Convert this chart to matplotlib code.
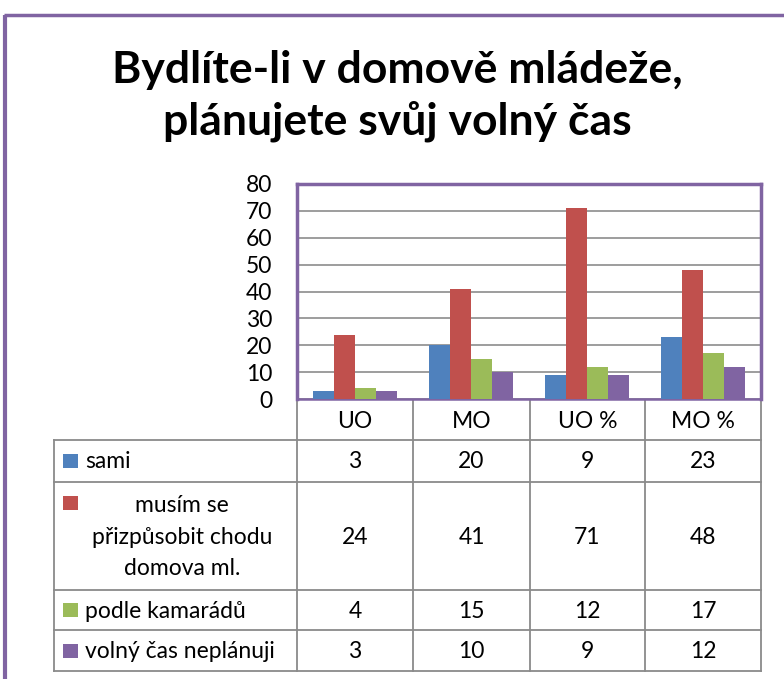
import numpy as np
import matplotlib
matplotlib.use('Agg')
import matplotlib.pyplot as plt

plt.rcParams['font.family'] = ['Lato', 'DejaVu Sans']

title = 'Bydlíte-li v domově mládeže,\nplánujete svůj volný čas'
categories = ['UO', 'MO', 'UO %', 'MO %']
series = ['sami', 'musím se\npřizpůsobit chodu\ndomova ml.', 'podle kamarádů', 'volný čas neplánuji']
sami = [3, 20, 9, 23]
musim = [24, 41, 71, 48]
kamaradi = [4, 15, 12, 17]
neplanuji = [3, 10, 9, 12]
values = [sami, musim, kamaradi, neplanuji]
colors = ['#4F81BD', '#C0504D', '#9BBB59', '#8064A2']
y_ticks = [0, 10, 20, 30, 40, 50, 60, 70, 80]

W, H = 784, 679
purple = '#8064A2'
grid_gray = '#8C8C8C'
fs = 16.5


def fx(x):
    return x / W


def fy(y):
    return 1 - y / H


fig = plt.figure(figsize=(W / 100, H / 100), dpi=100)

# overlay in pixel coordinates for border, title and data table
ov = fig.add_axes([0, 0, 1, 1], zorder=0)
ov.set_xlim(0, W)
ov.set_ylim(H, 0)
ov.axis('off')

# outer chart border
ov.plot([5.5, 5.5], [14.5, H + 5], color=purple, lw=3, clip_on=False, solid_capstyle='butt')
ov.plot([4, W + 5], [14.5, 14.5], color=purple, lw=2.5, clip_on=False, solid_capstyle='butt')

ov.text(397, 96, title, ha='center', va='center', fontsize=32, fontweight='bold',
        linespacing=1.3, color='black')

# bar chart
left, right, top, bottom = 297, 761, 184, 399
ax = fig.add_axes([fx(left), fy(bottom), fx(right - left), fy(top) - fy(bottom)], zorder=1)
x = np.arange(len(categories))
width = 0.181
for i, (vals, c) in enumerate(zip(values, colors)):
    ax.bar(x + (i - 1.5) * width, vals, width, color=c, zorder=3)
ax.set_xlim(-0.5, len(categories) - 0.5)
ax.set_ylim(0, 80)
ax.set_yticks(y_ticks)
ax.set_xticks([])
ax.tick_params(axis='y', length=0, pad=18, labelsize=fs)
ax.grid(axis='y', color=grid_gray, lw=1.2, zorder=1)
for side, s in ax.spines.items():
    s.set_color(purple)
    s.set_linewidth(2.5 if side != 'bottom' else 1.8)

# data table
col_edges = [297, 413, 530, 645, 761]
row_edges = [440, 482, 590, 630, 671]
label_left = 54
lc = '#8A8A8A'
lw = 1.3
for xe in col_edges:
    ov.plot([xe, xe], [400, row_edges[-1]], color=lc, lw=lw)
ov.plot([label_left, label_left], [row_edges[0], row_edges[-1]], color=lc, lw=lw)
for ye in row_edges:
    ov.plot([label_left, col_edges[-1]], [ye, ye], color=lc, lw=lw)

for j, cat in enumerate(categories):
    ov.text((col_edges[j] + col_edges[j + 1]) / 2, 421, cat, ha='center', va='center', fontsize=fs)

for i, (name, vals, c) in enumerate(zip(series, values, colors)):
    y0, y1 = row_edges[i], row_edges[i + 1]
    yc = (y0 + y1) / 2
    if '\n' in name:
        ov.add_patch(plt.Rectangle((63, 496), 15, 14, color=c, lw=0))
        ov.text(182, yc + 1, name, ha='center', va='center', multialignment='center',
                fontsize=fs, linespacing=1.6)
    else:
        ov.add_patch(plt.Rectangle((63, yc - 7), 15, 14, color=c, lw=0))
        ov.text(85, yc + 1, name, ha='left', va='center', fontsize=fs)
    for j, v in enumerate(vals):
        ov.text((col_edges[j] + col_edges[j + 1]) / 2, yc + 1, str(v), ha='center', va='center',
                fontsize=fs)

fig.savefig('out.png', dpi=100)
